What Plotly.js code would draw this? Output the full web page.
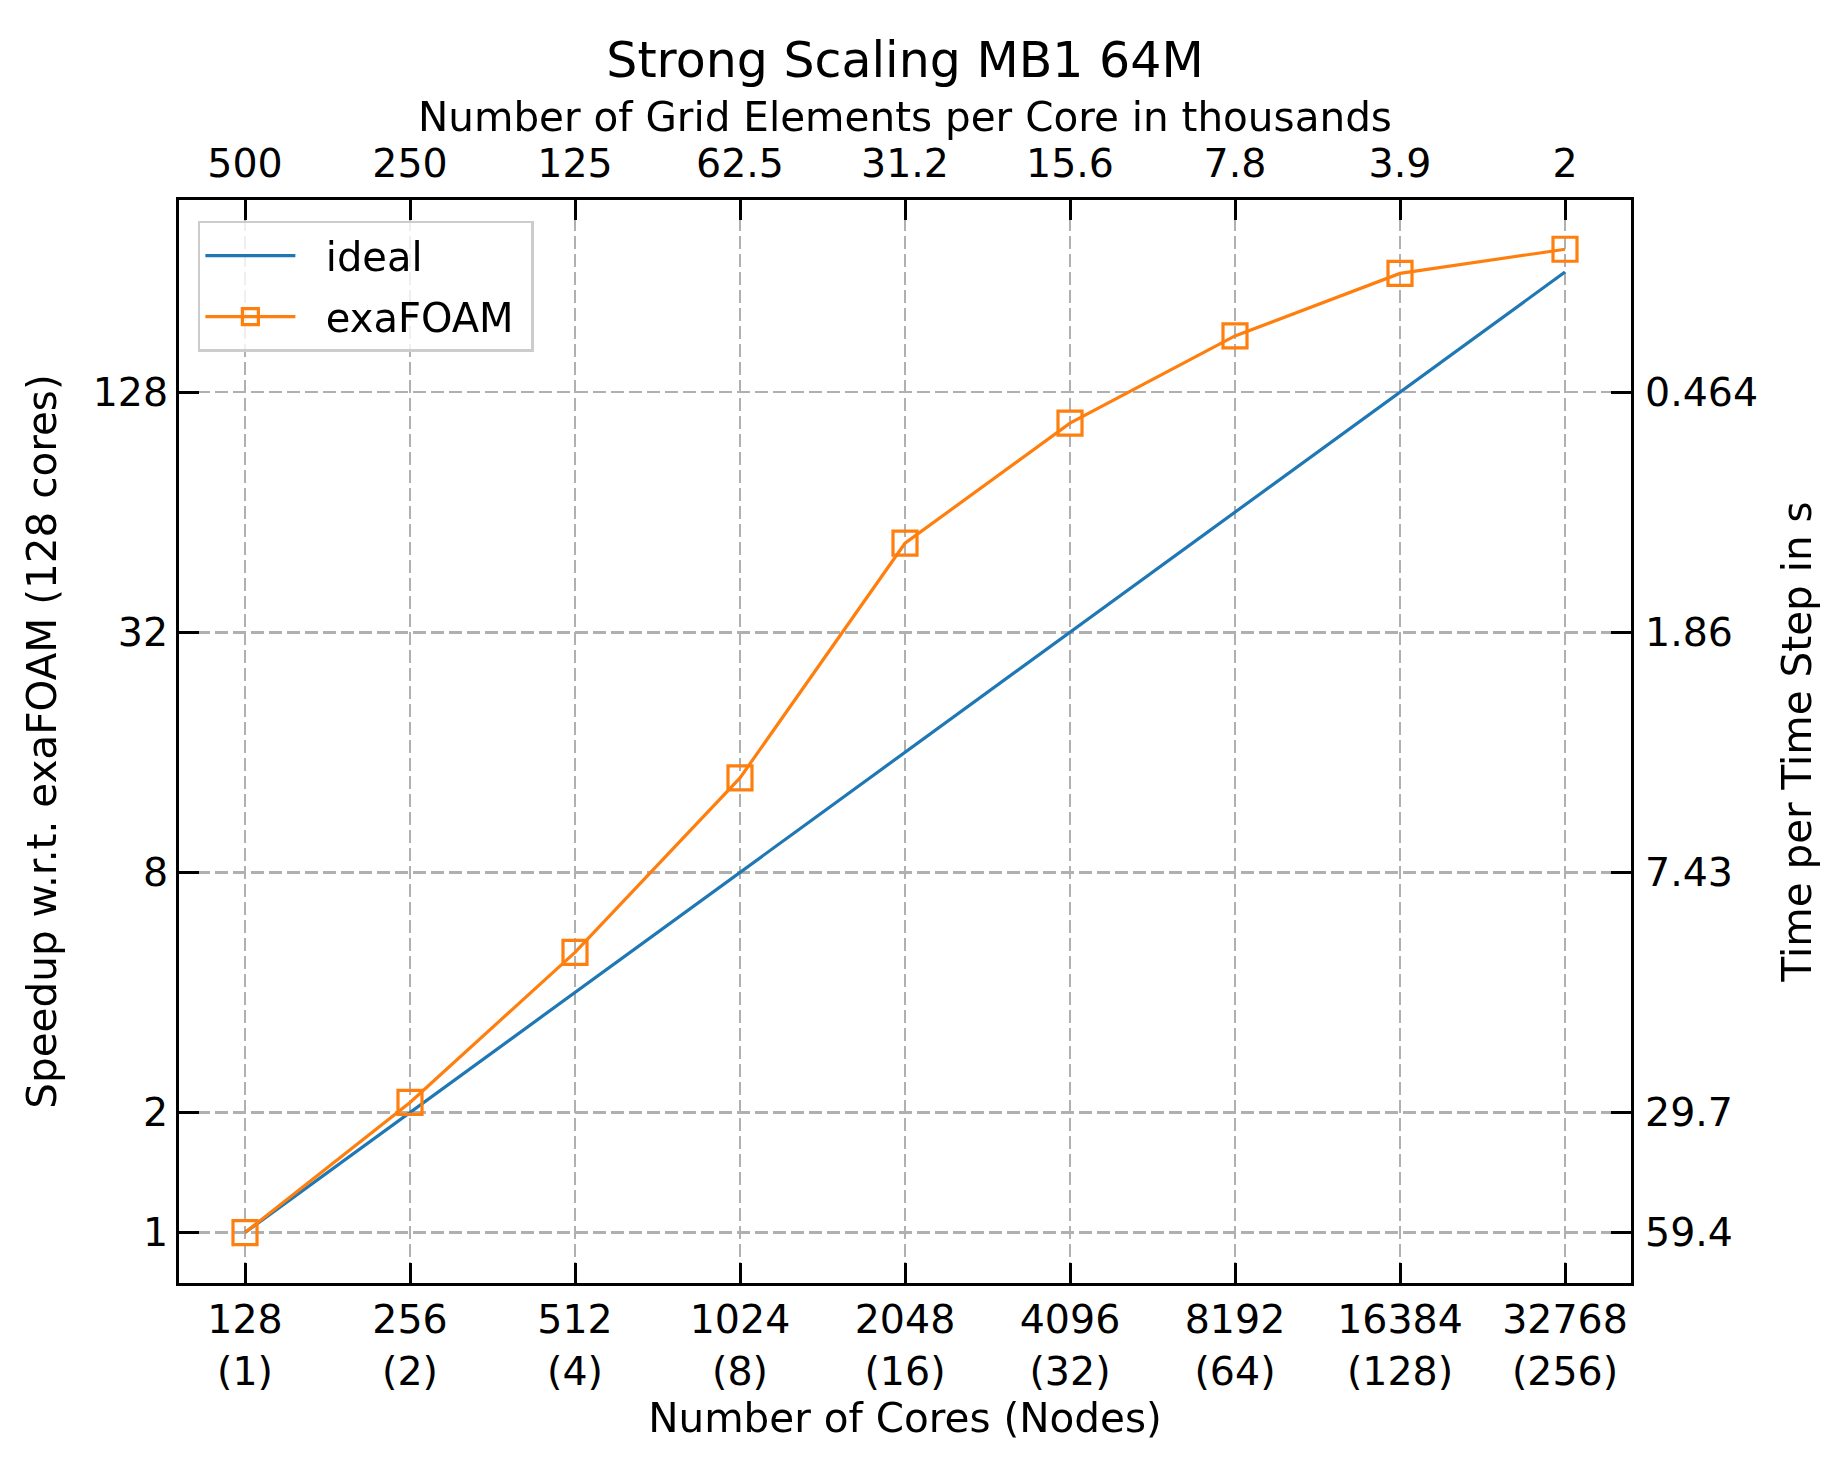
<!DOCTYPE html>
<html>
<head>
<meta charset="utf-8">
<script src="https://cdn.plot.ly/plotly-3.0.1.min.js"></script>
<style>
  html, body { margin: 0; padding: 0; background: #ffffff; }
  #chart { width: 1840px; height: 1464px; }
</style>
</head>
<body>
<div id="chart"></div>
<script>
// cores per run and the matching node counts
var cores = [128, 256, 512, 1024, 2048, 4096, 8192, 16384, 32768];
var nodes = [1, 2, 4, 8, 16, 32, 64, 128, 256];
// grid elements per core (thousands), shown on the top axis
var gridElements = ['500', '250', '125', '62.5', '31.2', '15.6', '7.8', '3.9', '2'];

// speedup relative to the 128 core run
var idealSpeedup = [1, 2, 4, 8, 16, 32, 64, 128, 256];
var exaSpeedup = [1, 2.12, 5.04, 13.8, 53.5, 107, 177, 254, 292];

// left and right tick labels
var speedupTicks = [1, 2, 8, 32, 128];
var timeTickText = ['59.4', '29.7', '7.43', '1.86', '0.464'];

var font = 'DejaVu Sans, Liberation Sans, sans-serif';
var log2 = Math.log10(2);
var pad = '\u00a0\u00a0';

// matplotlib style 5% padding on log axes
var xRange = [Math.log10(128) - 0.4 * log2, Math.log10(32768) + 0.4 * log2];
var yRange = [-0.42 * log2, 8.6 * log2];

var coreText = cores.map(function(c, i)
{
    return c + '<br>(' + nodes[i] + ')';
});

var tickStyle = {
    ticks: 'inside',
    ticklen: 20,
    tickwidth: 3,
    tickcolor: '#000000',
    tickfont: { family: font, size: 39.5, color: '#000000' },
    zeroline: false
};

function axis(extra)
{
    return Object.assign({}, tickStyle, extra);
}

var plotlyData = [
    {
        x: cores,
        y: idealSpeedup,
        type: 'scatter',
        mode: 'lines',
        name: pad + 'ideal\u00a0',
        legendgroup: 'a',
        line: { color: '#1f77b4', width: 3.2 }
    },
    {
        x: cores,
        y: exaSpeedup,
        type: 'scatter',
        mode: 'lines+markers',
        name: pad + 'exaFOAM\u00a0',
        legendgroup: 'b',
        line: { color: '#ff7f0e', width: 3.2 },
        marker: { symbol: 'square-open', size: 24, color: '#ff7f0e', line: { color: '#ff7f0e', width: 3.2 } }
    },
    {
        // carries the top and right axes, not visible
        x: cores,
        y: idealSpeedup,
        xaxis: 'x2',
        yaxis: 'y2',
        type: 'scatter',
        mode: 'markers',
        opacity: 0,
        showlegend: false,
        hoverinfo: 'skip'
    }
];

var gridStyle = {
    showgrid: true,
    gridcolor: '#b0b0b0',
    gridwidth: 2.6,
    griddash: '13px,5px'
};

var titleFont = { family: font, size: 40.5, color: '#000000' };

var plotlyLayout = {
    width: 1840,
    height: 1464,
    margin: { l: 179, r: 209, t: 200, b: 181 },
    paper_bgcolor: '#ffffff',
    plot_bgcolor: '#ffffff',
    font: { family: font, size: 39.5, color: '#000000' },
    title: {
        text: 'Strong Scaling MB1 64M',
        font: { family: font, size: 49, color: '#000000' },
        xref: 'paper',
        x: 0.5,
        xanchor: 'center',
        yref: 'container',
        y: 1 - 60 / 1464,
        yanchor: 'middle'
    },
    xaxis: axis(Object.assign({
        type: 'log',
        range: xRange,
        tickmode: 'array',
        tickvals: cores,
        ticktext: coreText,
        showline: true,
        linewidth: 3,
        linecolor: '#000000',
        mirror: true,
        title: { text: 'Number of Cores (Nodes)', font: titleFont, standoff: 6 }
    }, gridStyle)),
    xaxis2: axis({
        type: 'log',
        overlaying: 'x',
        side: 'top',
        range: xRange,
        tickmode: 'array',
        tickvals: cores,
        ticktext: gridElements,
        ticklabelstandoff: 14,
        showgrid: false,
        showline: false
    }),
    yaxis: axis(Object.assign({
        type: 'log',
        range: yRange,
        tickmode: 'array',
        tickvals: speedupTicks,
        ticktext: speedupTicks.map(String),
        showline: true,
        linewidth: 3,
        linecolor: '#000000',
        mirror: true,
        title: { text: 'Speedup w.r.t. exaFOAM (128 cores)', font: titleFont, standoff: 24 }
    }, gridStyle)),
    yaxis2: axis({
        type: 'log',
        overlaying: 'y',
        side: 'right',
        range: yRange,
        tickmode: 'array',
        tickvals: speedupTicks,
        ticktext: timeTickText,
        ticklabelstandoff: 13,
        showgrid: false,
        showline: false,
        title: { text: 'Time per Time Step in s', font: titleFont, standoff: 25 }
    }),
    annotations: [
        {
            // title of the top axis
            text: 'Number of Grid Elements per Core in thousands',
            font: titleFont,
            xref: 'paper',
            yref: 'paper',
            x: 0.5,
            y: 1 + 83 / 1083,
            xanchor: 'center',
            yanchor: 'middle',
            showarrow: false
        }
    ],
    legend: {
        x: 0.013,
        y: 0.981,
        xanchor: 'left',
        yanchor: 'top',
        bgcolor: 'rgba(255,255,255,0.8)',
        bordercolor: '#cccccc',
        borderwidth: 2.5,
        font: { family: font, size: 40, color: '#000000' },
        itemwidth: 90,
        traceorder: 'grouped',
        tracegroupgap: 6
    },
    showlegend: true
};

var plotlyConfig = {
    displayModeBar: false,
    staticPlot: true
};

Plotly.newPlot('chart', plotlyData, plotlyLayout, plotlyConfig);
</script>
</body>
</html>
